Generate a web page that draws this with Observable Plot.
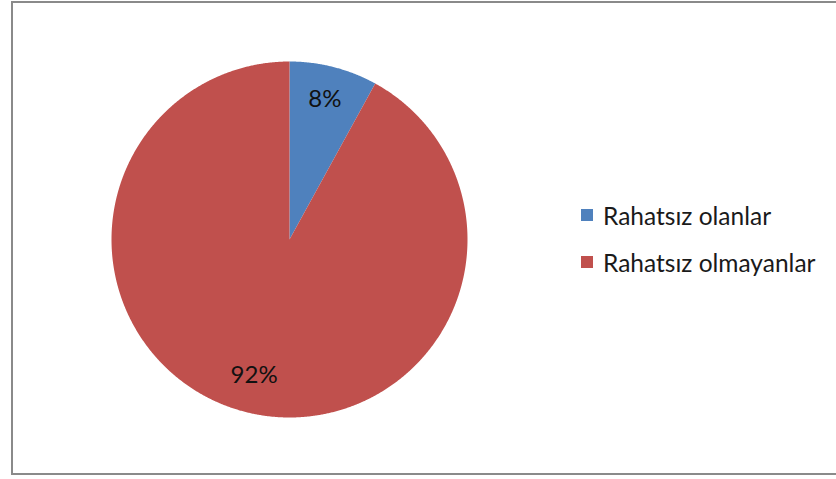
<!DOCTYPE html>
<html>
<head>
<meta charset="utf-8">
<script src="https://cdn.jsdelivr.net/npm/d3@7"></script>
<script src="https://cdn.jsdelivr.net/npm/@observablehq/plot@0.6"></script>
<style>
  html, body { margin: 0; padding: 0; background: #fff; }
  #wrap { position: relative; width: 836px; height: 479px; overflow: hidden; font-family: Lato, "Open Sans", sans-serif; }
  #frame { position: absolute; left: 11px; top: 1px; width: 900px; height: 474px; box-sizing: border-box; border: 2px solid #8a8a8a; }
  #chart { position: absolute; left: 0; top: 0; }
  #legend { position: absolute; left: 581px; top: 202px; }
  .row { display: flex; align-items: center; height: 26px; margin-bottom: 21px; font-size: 24.5px; color: #1a1a1a; white-space: nowrap; }
  .sw { width: 12px; height: 12px; margin-right: 10px; }
</style>
</head>
<body>
<div id="wrap">
  <div id="frame"></div>
  <div id="chart"></div>
  <div id="legend"></div>
</div>
<script>
const categories = ["Rahatsız olanlar", "Rahatsız olmayanlar"];
const values = [8, 92];
const labels = ["8%", "92%"];
const colors = ["#4F81BD", "#C0504D"];

const pie = d3.pie().sort(null).value((d, i) => values[i])(categories);

// polygon points for each slice (angles from d3.pie, clockwise from 12 o'clock)
const pts = [];
pie.forEach((a, i) => {
  const n = Math.max(2, Math.ceil((a.endAngle - a.startAngle) / 0.005));
  pts.push({key: categories[i], x: 0, y: 0});
  for (let k = 0; k <= n; k++) {
    const t = a.startAngle + (a.endAngle - a.startAngle) * k / n;
    pts.push({key: categories[i], x: Math.sin(t), y: Math.cos(t)});
  }
  pts.push({key: categories[i], x: 0, y: 0});
});

const labelData = pie.map((a, i) => {
  const m = (a.startAngle + a.endAngle) / 2;
  return {text: labels[i], x: 0.8 * Math.sin(m), y: 0.8 * Math.cos(m)};
});

const chart = Plot.plot({
  width: 836,
  height: 479,
  margin: 0,
  style: {background: "transparent", fontFamily: "Lato, 'Open Sans', sans-serif"},
  x: {domain: [-1, 1], range: [111, 467], axis: null},
  y: {domain: [-1, 1], range: [417, 61], axis: null},
  color: {domain: categories, range: colors},
  marks: [
    Plot.line(pts, {x: "x", y: "y", z: "key", fill: "key", stroke: "none", curve: "linear"}),
    Plot.text(labelData, {x: "x", y: "y", text: "text", fontSize: 24, fill: "#111", dy: -2})
  ]
});
document.getElementById("chart").appendChild(chart);

const lg = document.getElementById("legend");
categories.forEach((c, i) => {
  const row = document.createElement("div");
  row.className = "row";
  const sw = document.createElement("div");
  sw.className = "sw";
  sw.style.background = colors[i];
  const tx = document.createElement("span");
  tx.textContent = c;
  row.appendChild(sw);
  row.appendChild(tx);
  lg.appendChild(row);
});
</script>
</body>
</html>
